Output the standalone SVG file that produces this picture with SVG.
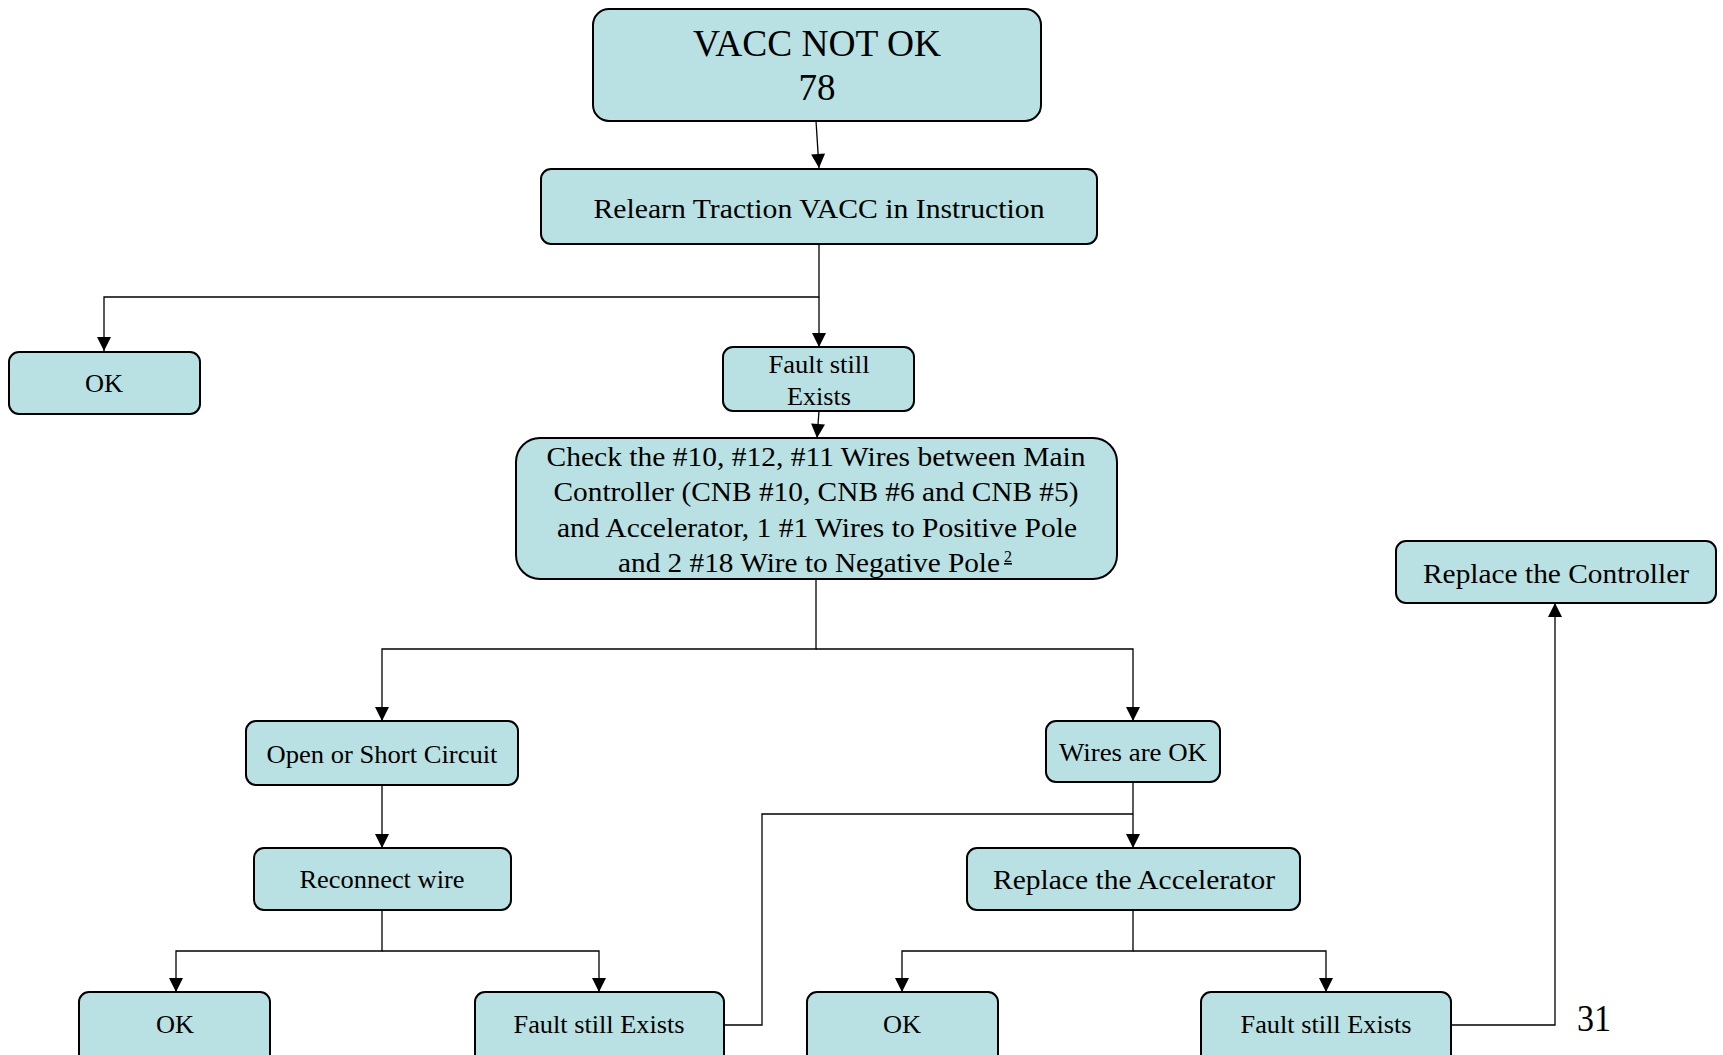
<svg xmlns="http://www.w3.org/2000/svg" width="1723" height="1055" viewBox="0 0 1723 1055">
<style>
.box{fill:#B9E0E3;stroke:#000;stroke-width:2}
.t{font-family:"Liberation Serif","Times New Roman",serif;fill:#000;text-anchor:middle}
.c{fill:none;stroke:#000;stroke-width:1.3}
</style>
<defs>
<marker id="ahL" viewBox="0 0 10 10" refX="10" refY="5" markerWidth="18" markerHeight="14" markerUnits="userSpaceOnUse" orient="auto">
<path d="M0,0 L10,5 L0,10 Z" fill="#000"/>
</marker>
</defs>
<rect width="1723" height="1055" fill="#fff"/>
<g id="connectors">
<path class="c" d="M816,121 L819,168" marker-end="url(#ahL)"/>
<path class="c" d="M819,244 L819,297 L104,297 L104,351" marker-end="url(#ahL)"/>
<path class="c" d="M819,297 L819,347" marker-end="url(#ahL)"/>
<path class="c" d="M819,411 L817,438" marker-end="url(#ahL)"/>
<path class="c" d="M816,579 L816,649 L382,649 L382,721" marker-end="url(#ahL)"/>
<path class="c" d="M816,649 L1133,649 L1133,721" marker-end="url(#ahL)"/>
<path class="c" d="M382,785 L382,848" marker-end="url(#ahL)"/>
<path class="c" d="M1133,782 L1133,848" marker-end="url(#ahL)"/>
<path class="c" d="M724,1025 L762,1025 L762,814 L1133,814"/>
<path class="c" d="M382,910 L382,951 L176,951 L176,992" marker-end="url(#ahL)"/>
<path class="c" d="M382,951 L599,951 L599,992" marker-end="url(#ahL)"/>
<path class="c" d="M1133,910 L1133,951 L902,951 L902,992" marker-end="url(#ahL)"/>
<path class="c" d="M1133,951 L1326,951 L1326,992" marker-end="url(#ahL)"/>
<path class="c" d="M1451,1025 L1555,1025 L1555,603" marker-end="url(#ahL)"/>
</g>
<g id="n_vacc">
<rect class="box" x="593" y="9" width="448" height="112" rx="16"/>
<text class="t" x="817" y="56" font-size="37" textLength="248" lengthAdjust="spacingAndGlyphs">VACC NOT OK</text>
<text class="t" x="817" y="100" font-size="37" textLength="37" lengthAdjust="spacingAndGlyphs">78</text>
</g>
<g id="n_relearn">
<rect class="box" x="541" y="169" width="556" height="75" rx="10"/>
<text class="t" x="819" y="218" font-size="27" textLength="451" lengthAdjust="spacingAndGlyphs">Relearn Traction VACC in Instruction</text>
</g>
<g id="n_ok1">
<rect class="box" x="9" y="352" width="191" height="62" rx="10"/>
<text class="t" x="104" y="392" font-size="25" textLength="38" lengthAdjust="spacingAndGlyphs">OK</text>
</g>
<g id="n_fault1">
<rect class="box" x="723" y="347" width="191" height="64" rx="10"/>
<text class="t" x="819" y="373" font-size="25" textLength="101" lengthAdjust="spacingAndGlyphs">Fault still</text>
<text class="t" x="819" y="405" font-size="25" textLength="64" lengthAdjust="spacingAndGlyphs">Exists</text>
</g>
<g id="n_check">
<rect class="box" x="516" y="438" width="601" height="141" rx="24"/>
<text class="t" x="816" y="466" font-size="27" textLength="539" lengthAdjust="spacingAndGlyphs">Check the #10, #12, #11 Wires between Main</text>
<text class="t" x="816" y="501" font-size="27" textLength="525" lengthAdjust="spacingAndGlyphs">Controller (CNB #10, CNB #6 and CNB #5)</text>
<text class="t" x="817" y="537" font-size="27" textLength="520" lengthAdjust="spacingAndGlyphs">and Accelerator, 1 #1 Wires to Positive Pole</text>
<text class="t" x="618" y="572" font-size="27" text-anchor="start" style="text-anchor:start" textLength="382" lengthAdjust="spacingAndGlyphs">and 2 #18 Wire to Negative Pole</text>
<text class="t" x="1004" y="562" font-size="16" style="text-anchor:start" text-decoration="underline">2</text>
</g>
<g id="n_open">
<rect class="box" x="246" y="721" width="272" height="64" rx="10"/>
<text class="t" x="382" y="763" font-size="25" textLength="231" lengthAdjust="spacingAndGlyphs">Open or Short Circuit</text>
</g>
<g id="n_wiresok">
<rect class="box" x="1046" y="721" width="174" height="61" rx="10"/>
<text class="t" x="1133" y="761" font-size="25" textLength="148" lengthAdjust="spacingAndGlyphs">Wires are OK</text>
</g>
<g id="n_reconnect">
<rect class="box" x="254" y="848" width="257" height="62" rx="10"/>
<text class="t" x="382" y="888" font-size="25" textLength="165" lengthAdjust="spacingAndGlyphs">Reconnect wire</text>
</g>
<g id="n_replacc">
<rect class="box" x="967" y="848" width="333" height="62" rx="10"/>
<text class="t" x="1134" y="889" font-size="27" textLength="282" lengthAdjust="spacingAndGlyphs">Replace the Accelerator</text>
</g>
<g id="n_replctrl">
<rect class="box" x="1396" y="541" width="320" height="62" rx="10"/>
<text class="t" x="1556" y="583" font-size="27" textLength="266" lengthAdjust="spacingAndGlyphs">Replace the Controller</text>
</g>
<g id="n_ok2">
<rect class="box" x="79" y="992" width="191" height="75" rx="10"/>
<text class="t" x="175" y="1033" font-size="25" textLength="38" lengthAdjust="spacingAndGlyphs">OK</text>
</g>
<g id="n_fault2">
<rect class="box" x="475" y="992" width="249" height="75" rx="10"/>
<text class="t" x="599" y="1033" font-size="25" textLength="171" lengthAdjust="spacingAndGlyphs">Fault still Exists</text>
</g>
<g id="n_ok3">
<rect class="box" x="807" y="992" width="191" height="75" rx="10"/>
<text class="t" x="902" y="1033" font-size="25" textLength="38" lengthAdjust="spacingAndGlyphs">OK</text>
</g>
<g id="n_fault3">
<rect class="box" x="1201" y="992" width="250" height="75" rx="10"/>
<text class="t" x="1326" y="1033" font-size="25" textLength="171" lengthAdjust="spacingAndGlyphs">Fault still Exists</text>
</g>
<text class="t" x="1594" y="1031" font-size="37" textLength="34" lengthAdjust="spacingAndGlyphs">31</text>
</svg>
